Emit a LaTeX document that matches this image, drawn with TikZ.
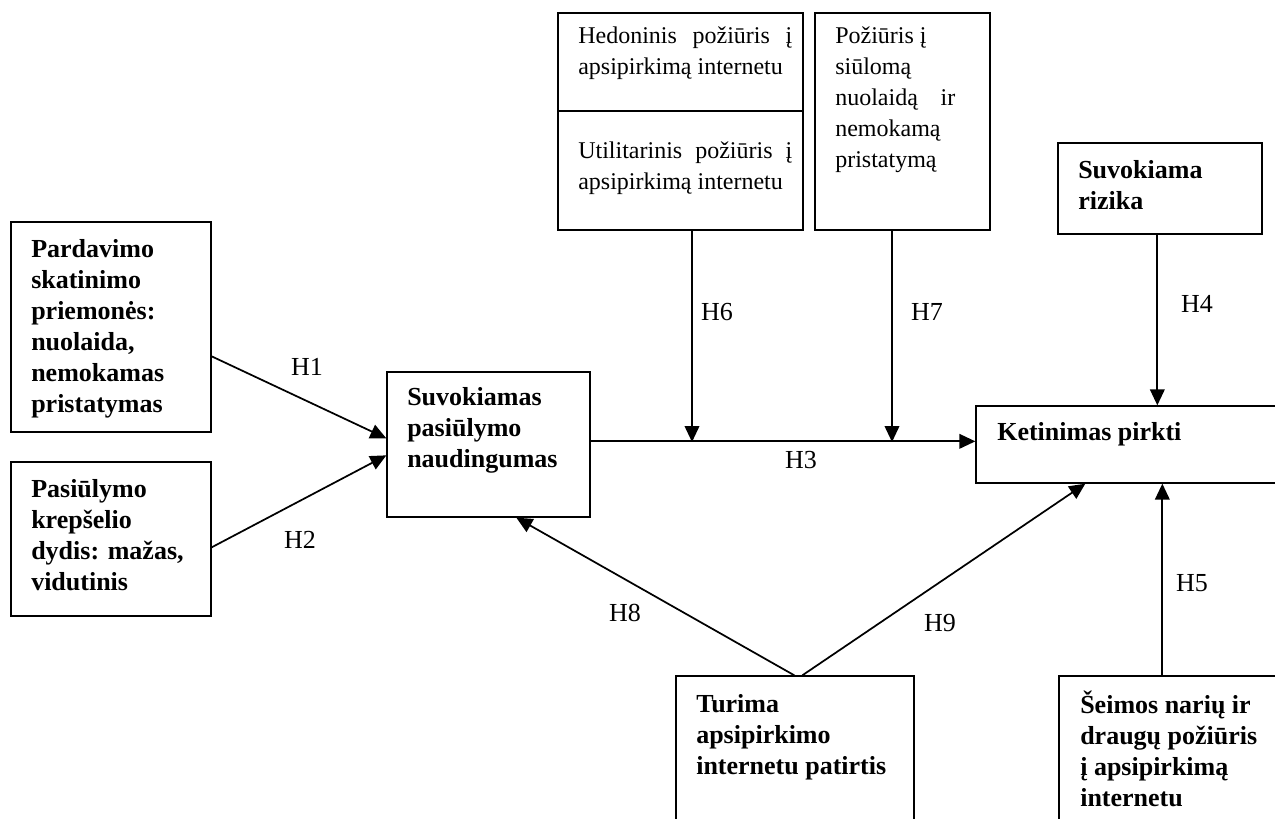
\documentclass[tikz,border=0pt]{standalone}
\usepackage{fontspec}
\setmainfont{Liberation Serif}
\usetikzlibrary{fit,arrows.meta,calc}
\tikzset{
  box/.style={draw, line width=1pt, inner sep=0pt},
  btxt/.style={anchor=base west, align=left, inner sep=0pt, font=\bfseries\fontsize{19.5}{23.25}\selectfont},
  rtxt/.style={anchor=base west, align=left, inner sep=0pt, font=\fontsize{18}{23.25}\selectfont},
  hlab/.style={inner sep=0pt, font=\fontsize{19.5}{23.25}\selectfont},
  arr/.style={line width=1.3pt, -{Triangle[length=12pt,width=11pt]}}
}
\begin{document}
\begin{tikzpicture}[x=0.75pt,y=-0.75pt]
\useasboundingbox (0,0) rectangle (1275,818);
\clip (0,0) rectangle (1275,818);
% boxes
\node[box, fit={(558,13) (803,111)}] (hed) {};
\node[box, fit={(558,111) (803,230)}] (util) {};
\node[box, fit={(815,13) (990,230)}] (poz) {};
\node[box, fit={(1058,143) (1262,234)}] (risk) {};
\node[box, fit={(11,222) (211,432)}] (pard) {};
\node[box, fit={(11,462) (211,616)}] (pas) {};
\node[box, fit={(387,372) (590,517)}] (suv) {};
\node[box, fit={(976,406) (1300,483)}] (ket) {};
\node[box, fit={(676,676) (914,840)}] (tur) {};
\node[box, fit={(1059,676) (1300,840)}] (seim) {};
% texts (anchored at the baseline of the last line)
\node[rtxt] (hedT) at (578,74) {\makebox[160.5pt][s]{Hedoninis požiūris į}\\apsipirkimą internetu};
\node[rtxt] (utilT) at (578,189) {\makebox[160.5pt][s]{Utilitarinis požiūris į}\\apsipirkimą internetu};
\node[rtxt] (pozT) at (835,167) {Požiūris į\\siūlomą\\\makebox[90pt][s]{nuolaidą ir}\\nemokamą\\pristatymą};
\node[btxt] (riskT) at (1078,209) {Suvokiama\\rizika};
\node[btxt] (pardT) at (31,412) {Pardavimo\\skatinimo\\priemonės:\\nuolaida,\\nemokamas\\pristatymas};
\node[btxt] (pasT) at (31,590) {Pasiūlymo\\krepšelio\\dydis: mažas,\\vidutinis};
\node[btxt] (suvT) at (407,467) {Suvokiamas\\pasiūlymo\\naudingumas};
\node[btxt] (ketT) at (997,440) {Ketinimas pirkti};
\node[btxt] (turT) at (696,774) {Turima\\apsipirkimo\\internetu patirtis};
\node[btxt] (seimT) at (1080,806) {Šeimos narių ir\\draugų požiūris\\į apsipirkimą\\internetu};
% junctions
\coordinate (j6) at (692,442);
\coordinate (j7) at (892,442);
% connectors
\draw[arr] ($(pard.north east)+(0,135)$) -- ($(suv.north west)+(0,67)$);
\draw[arr] ($(pas.north east)+(0,86)$) -- ($(suv.north west)+(0,84)$);
\draw[arr] ($(suv.north east)+(0,70)$) -- ($(ket.north west)+(0,36)$);
\draw[arr] (util.south -| j6) -- (j6);
\draw[arr] (poz.south -| j7) -- (j7);
\draw[arr] ($(risk.south west)+(100,0)$) -- ($(ket.north west)+(182,0)$);
\draw[arr] ($(seim.north west)+(104,0)$) -- ($(ket.south west)+(187,0)$);
\draw[arr] ($(tur.north west)+(119,0)$) -- ($(suv.south west)+(130,0)$);
\draw[arr] ($(tur.north west)+(127,0)$) -- ($(ket.south west)+(110,0)$);
% labels
\node[hlab] (h1) at (307,367) {H1};
\node[hlab] (h2) at (300,540) {H2};
\node[hlab] (h3) at (801,460) {H3};
\node[hlab] (h4) at (1197,304) {H4};
\node[hlab] (h5) at (1192,583) {H5};
\node[hlab] (h6) at (717,312) {H6};
\node[hlab] (h7) at (927,312) {H7};
\node[hlab] (h8) at (625,613) {H8};
\node[hlab] (h9) at (940,623) {H9};
\end{tikzpicture}
\end{document}
